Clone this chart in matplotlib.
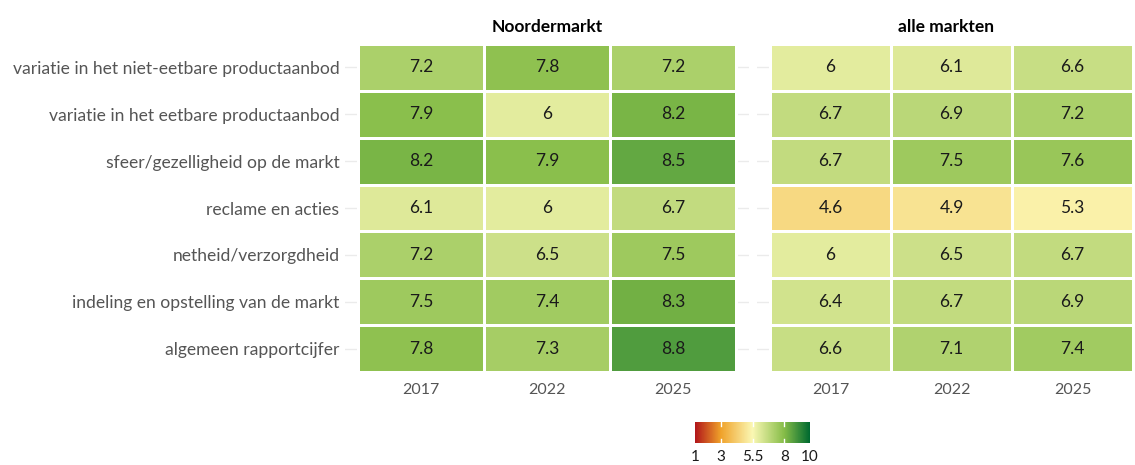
import numpy as np
import matplotlib.pyplot as plt
from matplotlib.colors import LinearSegmentedColormap, Normalize

# Gegevens
aspecten = [
    "variatie in het niet-eetbare productaanbod",
    "variatie in het eetbare productaanbod",
    "sfeer/gezelligheid op de markt",
    "reclame en acties",
    "netheid/verzorgdheid",
    "indeling en opstelling van de markt",
    "algemeen rapportcijfer",
]
jaren = ["2017", "2022", "2025"]
panelen = ["Noordermarkt", "alle markten"]

noordermarkt = [
    [7.2, 7.8, 7.2],
    [7.9, 6.0, 8.2],
    [8.2, 7.9, 8.5],
    [6.1, 6.0, 6.7],
    [7.2, 6.5, 7.5],
    [7.5, 7.4, 8.3],
    [7.8, 7.3, 8.8],
]
alle_markten = [
    [6.0, 6.1, 6.6],
    [6.7, 6.9, 7.2],
    [6.7, 7.5, 7.6],
    [4.6, 4.9, 5.3],
    [6.0, 6.5, 6.7],
    [6.4, 6.7, 6.9],
    [6.6, 7.1, 7.4],
]

schaal_ticks = [1, 3, 5.5, 8, 10]
schaal_kleuren = ["#b2171b", "#f0a22a", "#fbf8b4", "#86bd48", "#006a30"]

plt.rcParams['font.family'] = ['Lato', 'DejaVu Sans']

cmap = LinearSegmentedColormap.from_list(
    "rapport", [((t - 1) / 9, c) for t, c in zip(schaal_ticks, schaal_kleuren)])
norm = Normalize(1, 10)

fig = plt.figure(figsize=(11.35, 4.65), dpi=100)
W, H = 1135, 465

# positie van de panelen in pixels (links, rechts)
panel_px = [(345, 749), (757, 1135)]
tegel_px = [(358, 736), (770, 1133)]
top_px, bot_px = 44, 372

for k, (naam, data) in enumerate(zip(panelen, [noordermarkt, alle_markten])):
    l, r = panel_px[k]
    tl, tr = tegel_px[k]
    ax = fig.add_axes([l / W, 1 - bot_px / H, (r - l) / W, (bot_px - top_px) / H])
    breedte = (tr - tl) / 3
    pad_l = (tl - l) / breedte
    pad_r = (r - tr) / breedte
    arr = np.array(data)
    n = len(aspecten)
    ax.pcolormesh(np.arange(4), np.arange(n + 1), arr, cmap=cmap, norm=norm,
                  edgecolor="white", linewidth=1.0, zorder=2)
    for i in range(n):
        for j in range(3):
            ax.text(j + 0.5, i + 0.5, f"{arr[i, j]:g}", ha="center", va="center",
                    fontsize=12.5, color="#1a1a1a", zorder=3)
    for i in range(n):
        ax.axhline(i + 0.5, color="#ebebeb", linewidth=1, zorder=1)
    ax.set_xlim(-pad_l, 3 + pad_r)
    ax.set_ylim(n, 0)
    ax.set_xticks(np.arange(3) + 0.5)
    ax.set_xticklabels(jaren, fontsize=11.5, color="#555555")
    ax.set_yticks(np.arange(n) + 0.5)
    if k == 0:
        ax.set_yticklabels(aspecten, fontsize=12.6, color="#555555")
    else:
        ax.set_yticklabels([])
    ax.tick_params(axis="y", length=0, pad=4)
    ax.tick_params(axis="x", length=0, pad=8)
    for s in ax.spines.values():
        s.set_visible(False)
    ax.set_title(naam, fontsize=12.5, fontweight="bold", color="black", pad=9)

# kleurenschaal
cax = fig.add_axes([695 / W, 1 - 443 / H, 115 / W, 21 / H])
grad = np.linspace(1, 10, 300).reshape(1, -1)
cax.imshow(grad, cmap=cmap, norm=norm, aspect="auto", extent=[1, 10, 0, 1])
for t in schaal_ticks[1:-1]:
    cax.plot([t, t], [0, 0.2], color="white", linewidth=1)
    cax.plot([t, t], [0.8, 1], color="white", linewidth=1)
cax.set_xlim(1, 10)
cax.set_ylim(0, 1)
cax.set_yticks([])
cax.set_xticks(schaal_ticks)
cax.set_xticklabels([f"{t:g}" for t in schaal_ticks], fontsize=11, color="#1a1a1a")
cax.tick_params(length=0, pad=5)
for s in cax.spines.values():
    s.set_visible(False)

fig.savefig("out.png", dpi=100)
